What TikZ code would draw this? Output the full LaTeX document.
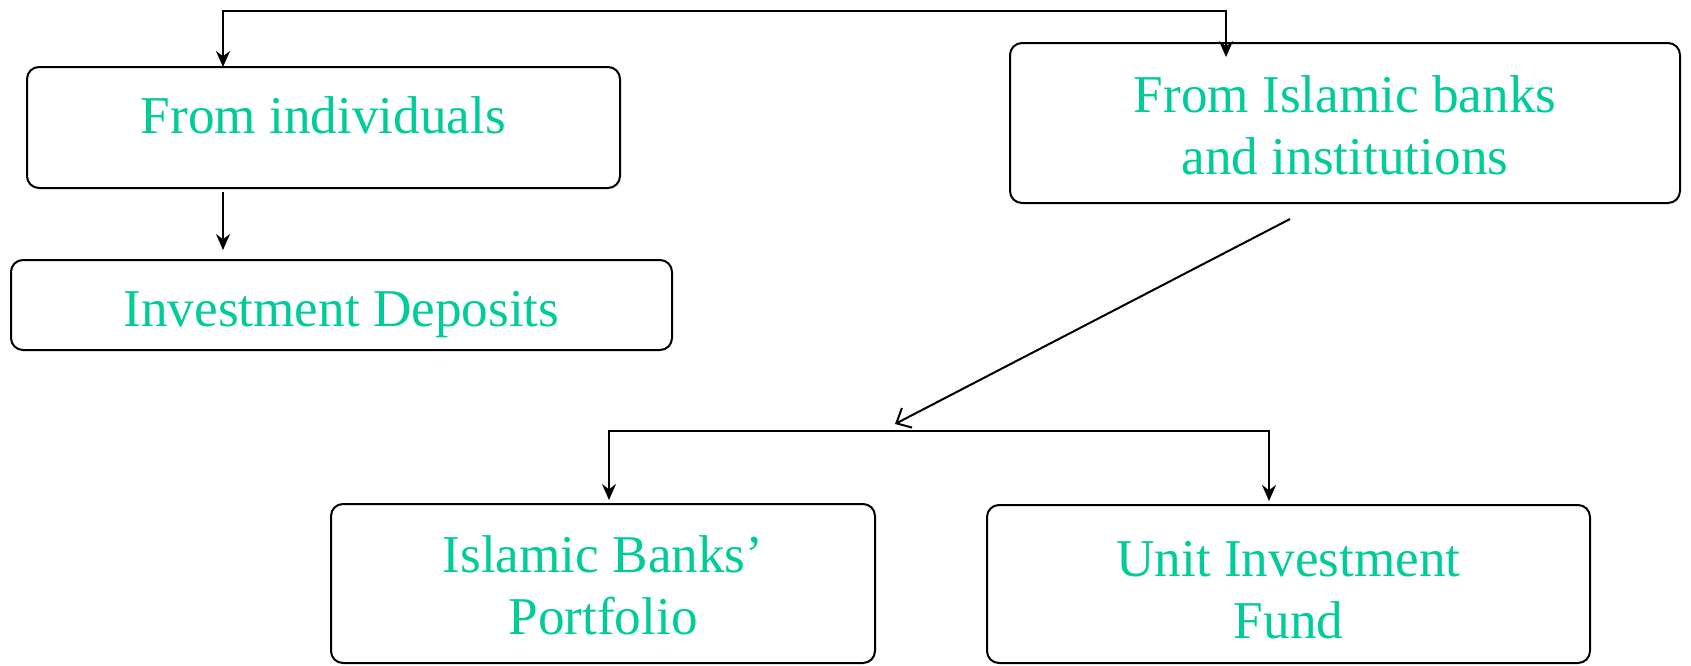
\documentclass[tikz,border=0pt]{standalone}
\usepackage{fontspec}
\setmainfont{Liberation Serif}
\usetikzlibrary{arrows.meta}
\definecolor{txtgreen}{RGB}{0,204,153}
\tikzset{
  box/.style={draw=black, line width=1pt, rounded corners=6pt, inner sep=0pt, outer sep=0pt},
  lbl/.style={text=txtgreen, align=center, inner sep=0pt, font=\fontsize{26.6}{31}\selectfont},
  conn/.style={draw=black, line width=1pt},
  arr/.style={conn, -{Stealth[length=8pt,width=7pt]}},
  barr/.style={conn, {Stealth[length=8pt,width=7pt]}-{Stealth[length=8pt,width=7pt]}},
  openarr/.style={conn, -{Straight Barb[length=6pt,width=11pt,line width=1pt]}}
}
\begin{document}
\begin{tikzpicture}[x=0.5pt,y=-0.5pt]
\useasboundingbox (0,0) rectangle (1691,665);
\node[box, minimum width=296.5pt, minimum height=60.5pt] (b1) at (323.5,127.5) {};
\node[box, minimum width=330.5pt, minimum height=45pt] (b2) at (341.5,305) {};
\node[box, minimum width=335pt, minimum height=80pt] (b3) at (1345,123) {};
\node[box, minimum width=272pt, minimum height=79.5pt] (b4) at (603,583.5) {};
\node[box, minimum width=301.5pt, minimum height=79pt] (b5) at (1288.5,584) {};
\node[lbl] (t1) at ([yshift=6pt]b1.center) {From individuals};
\node[lbl] (t2) at ([yshift=-5pt]b2.center) {Investment Deposits};
\node[lbl] (t3) at ([yshift=-1pt]b3.center) {From Islamic banks\\and institutions};
\node[lbl] (t4) at ([yshift=-1pt]b4.center) {Islamic Banks’\\Portfolio};
\node[lbl] (t5) at ([yshift=-3pt]b5.center) {Unit Investment\\Fund};
\coordinate (tl) at (223,11);
\coordinate (tr) at (1226,11);
\coordinate (d1) at (1290,219);
\coordinate (d2) at (895,424);
\coordinate (hl) at (609,431);
\coordinate (hr) at (1269,431);
\draw[barr] (b1.north -| tl) -- (tl) -- (tr) -- ([yshift=-7pt]b3.north -| tr);
\draw[arr] ([yshift=-2pt]b1.south -| tl) -- ([yshift=5pt]b2.north -| tl);
\draw[openarr] (d1) -- (d2);
\draw[barr] ([yshift=2pt]b4.north -| hl) -- (hl) -- (hr) -- ([yshift=2pt]b5.north -| hr);
\end{tikzpicture}
\end{document}
